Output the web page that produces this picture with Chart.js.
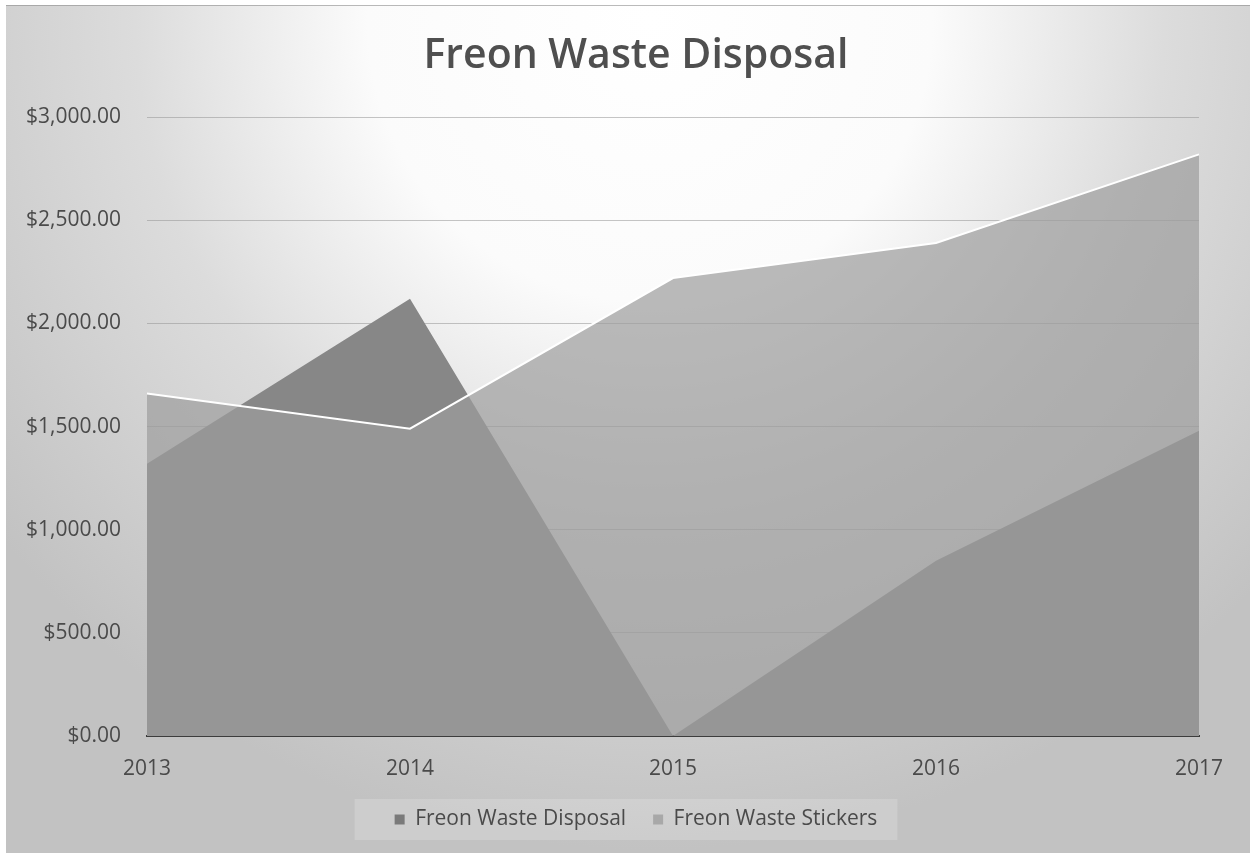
<!DOCTYPE html>
<html>
<head>
<meta charset="utf-8">
<title>Freon Waste Disposal</title>
<script src="https://cdn.jsdelivr.net/npm/chart.js@4.4.1/dist/chart.umd.min.js"></script>
<style>
  html, body { margin: 0; padding: 0; background: #ffffff; }
  #wrap { width: 1250px; height: 853px; }
</style>
</head>
<body>
<div id="wrap"><canvas id="freonChart" width="1250" height="853"></canvas></div>
<script>
// yearly costs
const years = ["2013", "2014", "2015", "2016", "2017"];
const disposalCost = [1320, 2120, 0, 850, 1480];
const stickerCost = [1660, 1490, 2220, 2390, 2820];
const yMax = 3000;
const yStep = 500;

const FONT = "'Open Sans', 'DejaVu Sans', sans-serif";
const TEXT = "#4a4a4a";

const money = (v) =>
  "$" + Number(v).toLocaleString("en-US", { minimumFractionDigits: 2, maximumFractionDigits: 2 });

// gray sheet with a bright spot behind the title, plus a pale band behind the legend
const backdrop = {
  id: "backdrop",
  beforeDraw(chart) {
    const { ctx, width, height } = chart;
    ctx.save();
    ctx.fillStyle = "#ffffff";
    ctx.fillRect(0, 0, width, height);

    const g = ctx.createRadialGradient(650, 20, 0, 650, 20, 830);
    g.addColorStop(0, "#ffffff");
    g.addColorStop(0.34, "#fbfbfb");
    g.addColorStop(0.62, "#dcdcdc");
    g.addColorStop(1, "#c2c2c2");
    ctx.fillStyle = g;
    ctx.fillRect(6, 5, width - 6, height - 5);

    ctx.strokeStyle = "rgba(140,140,140,0.6)";
    ctx.lineWidth = 1;
    ctx.beginPath();
    ctx.moveTo(6, 5.5);
    ctx.lineTo(width, 5.5);
    ctx.stroke();

    const boxes = chart.legend && chart.legend.legendHitBoxes;
    if (boxes && boxes.length) {
      const left = Math.min(...boxes.map((b) => b.left)) - 40;
      const right = Math.max(...boxes.map((b) => b.left + b.width)) + 20;
      const top = boxes[0].top - 10;
      const bottom = boxes[0].top + boxes[0].height + 10;
      ctx.fillStyle = "rgba(255,255,255,0.18)";
      ctx.fillRect(left, top, right - left, bottom - top);
    }
    ctx.restore();
  },
};

const ctx = document.getElementById("freonChart").getContext("2d");

new Chart(ctx, {
  type: "line",
  data: {
    labels: years,
    datasets: [
      {
        label: "Freon Waste Disposal",
        data: disposalCost,
        fill: "origin",
        backgroundColor: "#878787",
        borderColor: "rgba(0,0,0,0)",
        borderWidth: 0,
        pointRadius: 0,
        tension: 0,
        order: 2,
      },
      {
        label: "Freon Waste Stickers",
        data: stickerCost,
        fill: "origin",
        backgroundColor: "rgba(157,157,157,0.7)",
        borderColor: "#ffffff",
        borderWidth: 2,
        pointRadius: 0,
        tension: 0,
        order: 1,
      },
    ],
  },
  options: {
    responsive: false,
    animation: false,
    layout: { padding: { left: 22, right: 0, top: 0, bottom: 13 } },
    plugins: {
      title: {
        display: true,
        text: "Freon Waste Disposal",
        color: "#4f4f4f",
        font: { family: FONT, size: 41, weight: "600" },
        padding: { top: 32, bottom: 36 },
      },
      legend: {
        position: "bottom",
        labels: {
          color: TEXT,
          font: { family: FONT, size: 21 },
          boxWidth: 10,
          boxHeight: 10,
          padding: 27,
          generateLabels(chart) {
            return chart.data.datasets.map((ds, i) => ({
              text: ds.label,
              fillStyle: i === 0 ? "#7a7a7a" : "#a8a8a8",
              strokeStyle: "rgba(0,0,0,0)",
              lineWidth: 0,
              fontColor: TEXT,
              datasetIndex: i,
            }));
          },
        },
      },
      tooltip: { enabled: false },
    },
    scales: {
      x: {
        offset: false,
        grid: { display: false, drawTicks: false },
        border: { display: true, color: "#3c3c3c", width: 2 },
        ticks: { color: TEXT, font: { family: FONT, size: 21 }, padding: 20, maxRotation: 0 },
        afterFit(scale) {
          scale.height = 46;
        },
      },
      y: {
        min: 0,
        max: yMax,
        grid: { color: "rgba(150,150,150,0.55)", lineWidth: 1, drawTicks: false },
        border: { display: false },
        ticks: {
          stepSize: yStep,
          color: TEXT,
          font: { family: FONT, size: 21 },
          padding: 26,
          callback: (v) => money(v),
        },
        afterFit(scale) {
          scale.width = 125;
        },
      },
      // empty strip on the right so the last year label has room
      gutter: {
        type: "linear",
        position: "right",
        grid: { display: false },
        border: { display: false },
        ticks: { display: false },
        afterFit(scale) {
          scale.width = 51;
        },
      },
    },
  },
  plugins: [backdrop],
});
</script>
</body>
</html>
